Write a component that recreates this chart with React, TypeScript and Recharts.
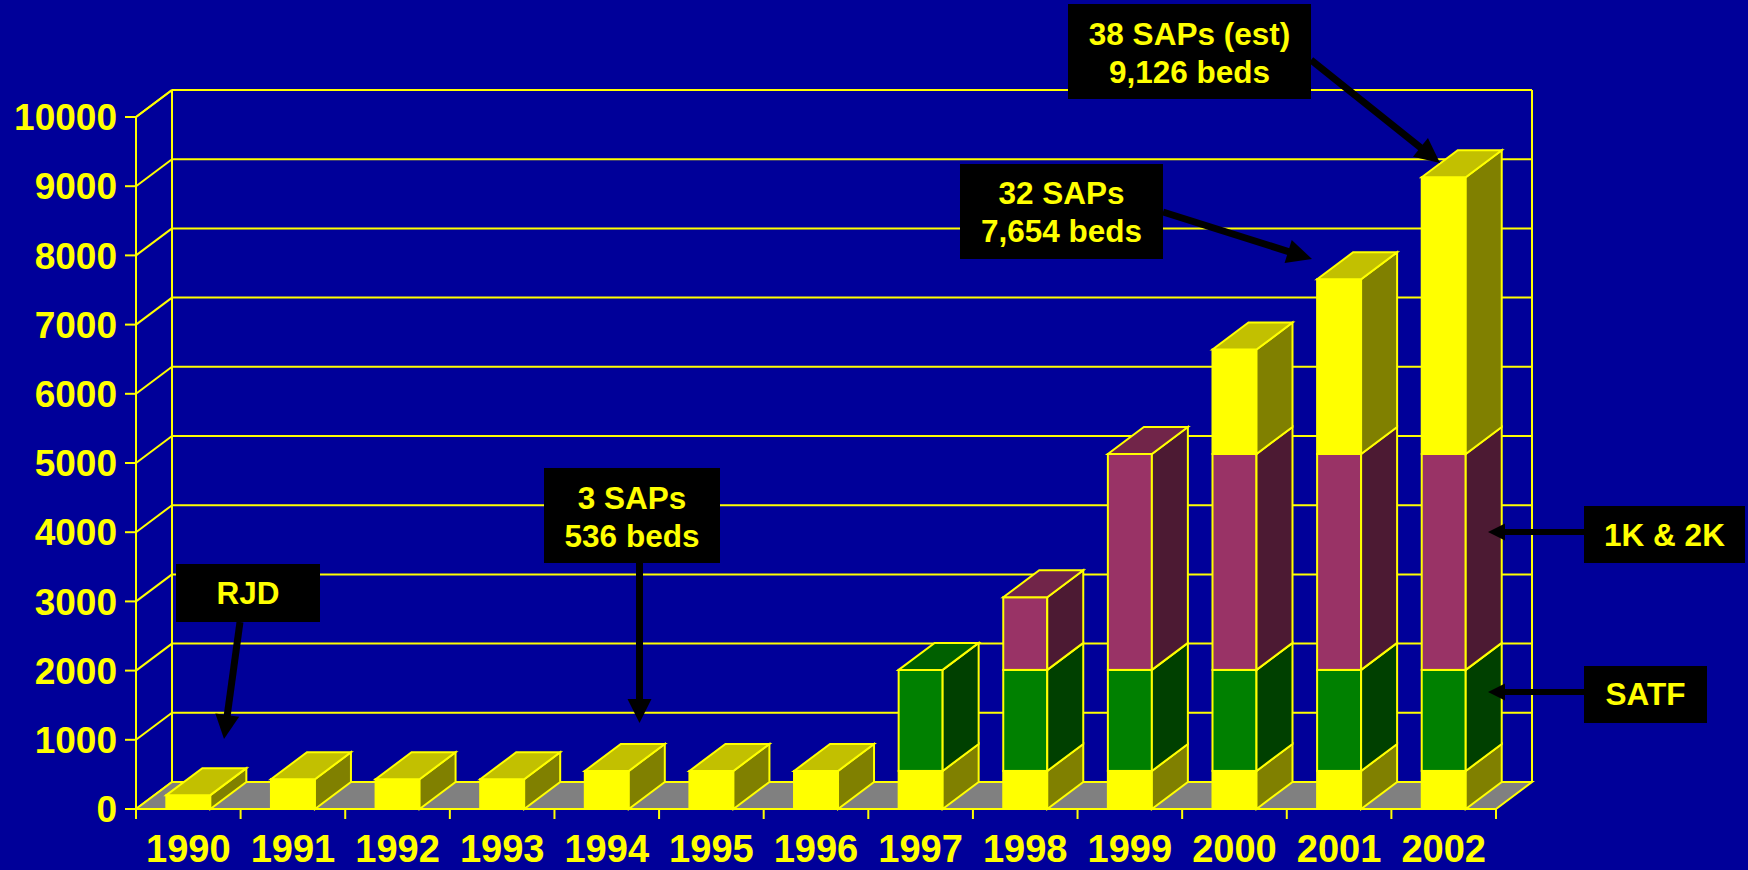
import React from 'react';
import { BarChart, Bar, XAxis, YAxis, CartesianGrid, ReferenceArea } from 'recharts';

// ---- data ----
const years = ['1990', '1991', '1992', '1993', '1994', '1995', '1996', '1997', '1998', '1999', '2000', '2001', '2002'];
const baseBeds = [200, 430, 430, 430, 550, 550, 550, 550, 550, 550, 550, 550, 550];
const satfBeds = [0, 0, 0, 0, 0, 0, 0, 1460, 1460, 1460, 1460, 1460, 1460];
const k12Beds = [0, 0, 0, 0, 0, 0, 0, 0, 1050, 3120, 3120, 3120, 3120];
const newBeds = [0, 0, 0, 0, 0, 0, 0, 0, 0, 0, 1510, 2525, 4000];
const yTicks = [0, 1000, 2000, 3000, 4000, 5000, 6000, 7000, 8000, 9000, 10000];

const data = years.map((year, i) => ({
  year,
  base: baseBeds[i],
  satf: satfBeds[i],
  k12: k12Beds[i],
  newer: newBeds[i],
}));

// ---- styles ----
const BG = '#000099';
const YEL = '#FFFF00';
const DX = 36;
const DY = 27;
const FONT = '"Liberation Sans", Arial, Helvetica, sans-serif';

const seriesOrder = ['base', 'satf', 'k12', 'newer'];
const palette: Record<string, { front: string; side: string; top: string }> = {
  base: { front: '#FFFF00', side: '#808000', top: '#C2C000' },
  satf: { front: '#008000', side: '#004000', top: '#006000' },
  k12: { front: '#993366', side: '#4C1A33', top: '#712549' },
  newer: { front: '#FFFF00', side: '#808000', top: '#C2C000' },
};

const makeShape = (key: string) => (props: any) => {
  const { x, y, width, height, payload } = props;
  if (!height || height <= 0 || !width) return <g />;
  const idx = seriesOrder.indexOf(key);
  const isTop = seriesOrder.slice(idx + 1).every((k) => !payload[k]);
  const c = palette[key];
  const side = `${x + width},${y} ${x + width + DX},${y - DY} ${x + width + DX},${y + height - DY} ${x + width},${y + height}`;
  const top = `${x},${y} ${x + DX},${y - DY} ${x + width + DX},${y - DY} ${x + width},${y}`;
  return (
    <g>
      <rect x={x} y={y} width={width} height={height} fill={c.front} stroke={YEL} strokeWidth={2} />
      <polygon points={side} fill={c.side} stroke={YEL} strokeWidth={2} strokeLinejoin="miter" />
      {isTop && <polygon points={top} fill={c.top} stroke={YEL} strokeWidth={2} strokeLinejoin="miter" />}
    </g>
  );
};

const gridLine = (p: any) => {
  const { x1, y1, x2 } = p;
  return (
    <g key={p.key}>
      <line x1={x1} y1={y1} x2={x1 + DX} y2={y1 - DY} stroke={YEL} strokeWidth={2} />
      <line x1={x1 + DX} y1={y1 - DY} x2={x2 + DX} y2={y1 - DY} stroke={YEL} strokeWidth={2} />
    </g>
  );
};

const roomShape = (p: any) => {
  const { x, y, width, height } = p;
  const b = y + height;
  const floor = `${x},${b} ${x + width},${b} ${x + width + DX},${b - DY} ${x + DX},${b - DY}`;
  return (
    <g>
      <polygon points={floor} fill="#808080" stroke={YEL} strokeWidth={2} />
      <line x1={x + DX} y1={y - DY} x2={x + DX} y2={b - DY} stroke={YEL} strokeWidth={2} />
      <line x1={x + width + DX} y1={y - DY} x2={x + width + DX} y2={b - DY} stroke={YEL} strokeWidth={2} />
      <line x1={x + DX} y1={y - DY} x2={x + width + DX} y2={y - DY} stroke={YEL} strokeWidth={2} />
      <line x1={x} y1={y} x2={x + DX} y2={y - DY} stroke={YEL} strokeWidth={2} />
    </g>
  );
};

const YearTick = (p: any) => {
  const { x, y, payload, index, visibleTicksCount, width } = p;
  let half = payload && payload.offset ? payload.offset : 0;
  if (!half && width && visibleTicksCount) half = width / visibleTicksCount / 2;
  const last = index === visibleTicksCount - 1;
  return (
    <g>
      <line x1={x - half} y1={y} x2={x - half} y2={y + 10} stroke={YEL} strokeWidth={2} />
      {last && <line x1={x + half} y1={y} x2={x + half} y2={y + 10} stroke={YEL} strokeWidth={2} />}
      <text x={x} y={y} dy={53} textAnchor="middle" fill={YEL} fontSize={38} fontWeight="bold" fontFamily={FONT}>
        {payload.value}
      </text>
    </g>
  );
};

// ---- annotations ----
type Note = { lines: string[]; box: [number, number, number, number]; baselines: number[]; arrow: [number, number, number, number]; head: [number, number, number] };
const notes: Note[] = [
  { lines: ['RJD'], box: [176, 564, 144, 58], baselines: [604], arrow: [240, 622, 224, 739], head: [24, 24, 7] },
  { lines: ['3 SAPs', '536 beds'], box: [544, 468, 176, 95], baselines: [509, 547], arrow: [639.5, 563, 639.5, 723], head: [24, 24, 7] },
  { lines: ['32 SAPs', '7,654 beds'], box: [960, 164, 203, 95], baselines: [204, 242], arrow: [1163, 212, 1312, 259], head: [25, 24, 7] },
  { lines: ['38 SAPs (est)', '9,126 beds'], box: [1068, 4, 243, 95], baselines: [45, 83], arrow: [1311, 60, 1440, 163], head: [25, 24, 7] },
  { lines: ['1K & 2K'], box: [1584, 506, 161, 57], baselines: [546], arrow: [1584, 532, 1488, 532], head: [17, 17, 6] },
  { lines: ['SATF'], box: [1584, 666, 123, 57], baselines: [705], arrow: [1584, 692, 1488, 692], head: [17, 17, 6] },
];

const Arrow = ({ a, head }: { a: [number, number, number, number]; head: [number, number, number] }) => {
  const [x1, y1, x2, y2] = a;
  const [L, W, sw] = head;
  const len = Math.hypot(x2 - x1, y2 - y1);
  const ux = (x2 - x1) / len;
  const uy = (y2 - y1) / len;
  const bx = x2 - ux * L;
  const by = y2 - uy * L;
  const nx = -uy;
  const ny = ux;
  return (
    <g>
      <line x1={x1} y1={y1} x2={bx + ux * 2} y2={by + uy * 2} stroke="#000" strokeWidth={sw} />
      <polygon points={`${x2},${y2} ${bx + (nx * W) / 2},${by + (ny * W) / 2} ${bx - (nx * W) / 2},${by - (ny * W) / 2}`} fill="#000" />
    </g>
  );
};

export default function App() {
  return (
    <div style={{ position: 'absolute', left: 0, top: 0, width: 1748, height: 870, background: BG, overflow: 'hidden' }}>
      <BarChart
        width={1748}
        height={870}
        data={data}
        margin={{ top: 117, right: 252, bottom: 5, left: 36 }}
        barCategoryGap="29%"
      >
        <CartesianGrid horizontal={gridLine} vertical={false} stroke={YEL} />
        <ReferenceArea y1={0} y2={10000} shape={roomShape} ifOverflow="visible" />
        <XAxis
          dataKey="year"
          interval={0}
          height={56}
          tickSize={0}
          tickMargin={0}
          tickLine={false}
          axisLine={{ stroke: YEL, strokeWidth: 2 }}
          tick={YearTick}
        />
        <YAxis
          width={100}
          domain={[0, 10000]}
          ticks={yTicks}
          interval={0}
          tickSize={11}
          tickMargin={8}
          axisLine={{ stroke: YEL, strokeWidth: 2 }}
          tickLine={{ stroke: YEL, strokeWidth: 2 }}
          tick={{ fill: YEL, fontSize: 37, fontWeight: 'bold', fontFamily: FONT }}
        />
        <Bar dataKey="base" stackId="s" isAnimationActive={false} shape={makeShape('base')} />
        <Bar dataKey="satf" stackId="s" isAnimationActive={false} shape={makeShape('satf')} />
        <Bar dataKey="k12" stackId="s" isAnimationActive={false} shape={makeShape('k12')} />
        <Bar dataKey="newer" stackId="s" isAnimationActive={false} shape={makeShape('newer')} />
      </BarChart>
      <svg width={1748} height={870} style={{ position: 'absolute', left: 0, top: 0, pointerEvents: 'none' }}>
        {notes.map((n, i) => (
          <g key={i}>
            <rect x={n.box[0]} y={n.box[1]} width={n.box[2]} height={n.box[3]} fill="#000" />
            {n.lines.map((t, j) => (
              <text
                key={j}
                x={n.box[0] + n.box[2] / 2}
                y={n.baselines[j]}
                textAnchor="middle"
                fill={YEL}
                fontSize={31.5}
                fontWeight="bold"
                fontFamily={FONT}
              >
                {t}
              </text>
            ))}
            <Arrow a={n.arrow} head={n.head} />
          </g>
        ))}
      </svg>
    </div>
  );
}
